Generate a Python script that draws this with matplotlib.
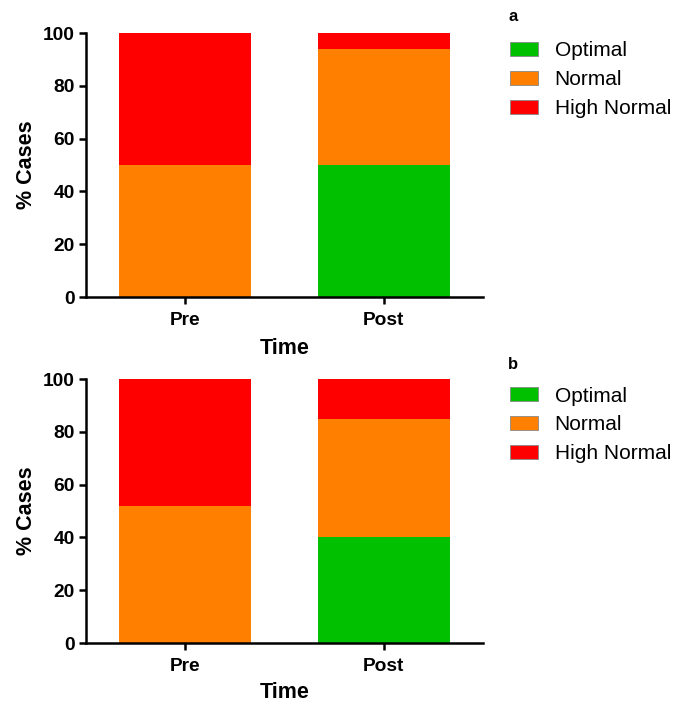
import matplotlib
matplotlib.use("Agg")
import matplotlib.pyplot as plt
from matplotlib.patches import Patch

plt.rcParams['font.family'] = ['Liberation Sans', 'DejaVu Sans']

categories = ["Pre", "Post"]
series_names = ["Optimal", "Normal", "High Normal"]
colors = ["#00c000", "#ff8000", "#ff0000"]

# panel a
a_optimal = [0, 50]
a_normal = [50, 44]
a_high = [50, 6]
# panel b
b_optimal = [0, 40]
b_normal = [52, 45]
b_high = [48, 15]

fig = plt.figure(figsize=(6.87, 7.03), dpi=100)

def draw(rect, vals, letter, legend_y, letter_y, xlabelpad):
    ax = fig.add_axes(rect)
    x = list(range(len(categories)))
    bottom = [0] * len(categories)
    for v, c in zip(vals, colors):
        ax.bar(x, v, width=0.667, bottom=bottom, color=c, edgecolor='none')
        bottom = [b + vv for b, vv in zip(bottom, v)]
    ax.set_xlim(-0.5, 1.5)
    ax.set_ylim(0, 100)
    ax.set_yticks([0, 20, 40, 60, 80, 100])
    ax.set_xticks(x)
    ax.set_xticklabels(categories)
    for s in ['top', 'right']:
        ax.spines[s].set_visible(False)
    for s in ['left', 'bottom']:
        ax.spines[s].set_linewidth(1.8)
    ax.tick_params(axis='both', width=1.8, length=5, labelsize=13.75)
    ax.tick_params(axis='x', pad=6)
    ax.tick_params(axis='y', pad=3)
    for lab in ax.get_xticklabels() + ax.get_yticklabels():
        lab.set_fontweight('bold')
    ax.set_ylabel("% Cases", fontsize=15.5, fontweight='bold', labelpad=4)
    ax.set_xlabel("Time", fontsize=15.5, fontweight='bold', labelpad=xlabelpad)
    handles = [Patch(facecolor=c, edgecolor='#888888', linewidth=0.6) for c in colors]
    fig.legend(handles, series_names, loc='upper left', bbox_to_anchor=(0.742, legend_y),
               frameon=False, fontsize=15, handlelength=1.35, handleheight=0.67,
               handletextpad=0.8, labelspacing=0.47, borderaxespad=0, borderpad=0)
    fig.text(0.747, letter_y, letter, fontsize=12, fontweight='bold',
             ha='center', va='center')
    return ax

draw([0.1252, 0.5775, 0.578, 0.3755], [a_optimal, a_normal, a_high], "a", 0.941, 0.977, 6.5)
draw([0.1252, 0.0853, 0.578, 0.3755], [b_optimal, b_normal, b_high], "b", 0.450, 0.481, 4.5)

fig.savefig("out.png", dpi=100)
